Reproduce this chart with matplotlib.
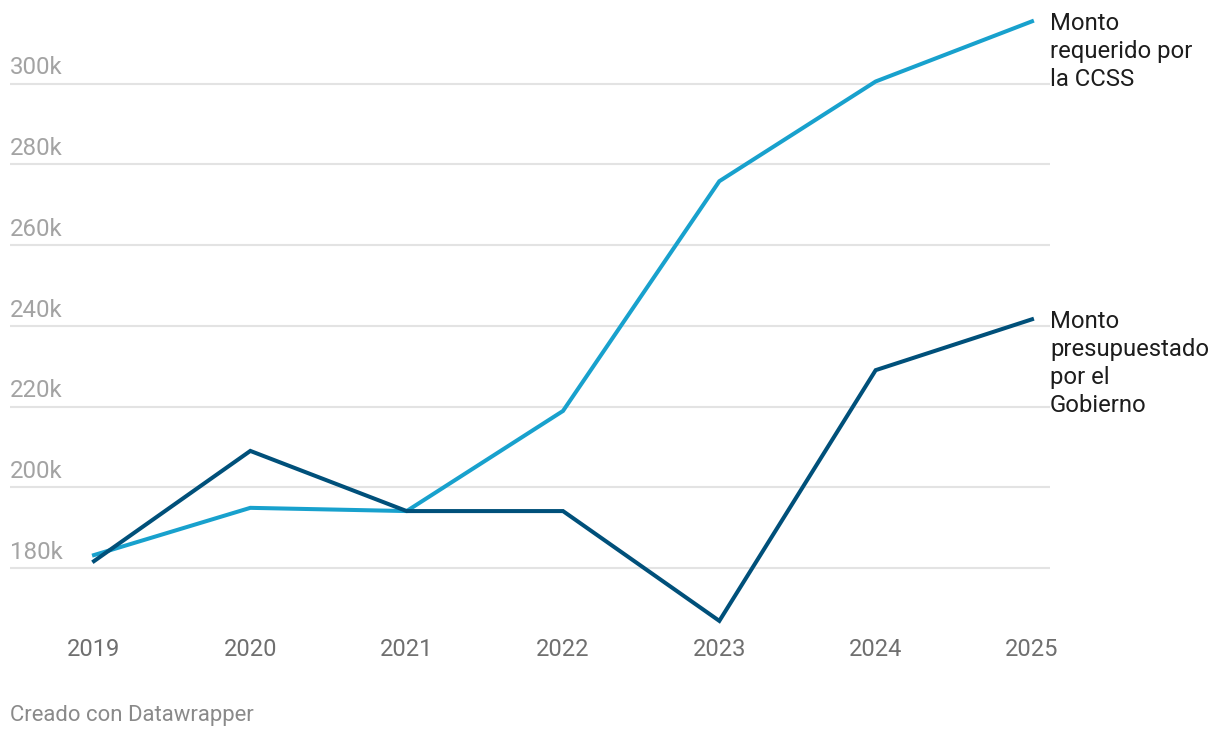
import matplotlib
matplotlib.use("Agg")
import matplotlib.pyplot as plt

plt.rcParams['font.family'] = ['Roboto', 'DejaVu Sans']

years = [2019, 2020, 2021, 2022, 2023, 2024, 2025]
requerido = [183.2, 194.9, 194.1, 218.9, 275.8, 300.5, 315.4]
presupuestado = [181.7, 209.0, 194.1, 194.1, 166.9, 229.0, 241.6]
yticks = [180, 200, 220, 240, 260, 280, 300]
ytick_labels = ["180k", "200k", "220k", "240k", "260k", "280k", "300k"]
label_req = "Monto\nrequerido por\nla CCSS"
label_pre = "Monto\npresupuestado\npor el\nGobierno"

W, H = 1220, 738
fig = plt.figure(figsize=(W / 100, H / 100), dpi=100)
left_px, right_px, top_px, bot_px = 10, 1050, 15, 630
ax = fig.add_axes([left_px / W, 1 - bot_px / H, (right_px - left_px) / W, (bot_px - top_px) / H])

px_per_year = (1032 - 94) / 6
ax.set_xlim(2019 - 84 / px_per_year, 2025 + 18 / px_per_year)
px_per_k = (568 - 83.5) / 120
ax.set_ylim(180 - (630 - 568) / px_per_k, 300 + (83.5 - 15) / px_per_k)

for s in ax.spines.values():
    s.set_visible(False)
ax.set_yticks([])
ax.set_xticks(years)
ax.set_xticklabels([str(y) for y in years], fontsize=17, color='#6f6f6f')
ax.tick_params(axis='x', length=0, pad=5.5)

for v, lab in zip(yticks, ytick_labels):
    ax.axhline(v, color='#e3e3e3', lw=1.5, zorder=0)
    ax.annotate(lab, xy=(0, v), xycoords=('axes fraction', 'data'),
                xytext=(0, 6.5), textcoords='offset points',
                ha='left', va='baseline', fontsize=17.3, color='#a3a3a3')

c_req = '#18a1cd'
c_pre = '#00507a'
ax.plot(years, requerido, color=c_req, lw=2.9, solid_joinstyle='miter', zorder=3)
ax.plot(years, presupuestado, color=c_pre, lw=2.9, solid_joinstyle='miter', zorder=4)

ax.annotate(label_req, xy=(years[-1], requerido[-1]), xytext=(13, 6.5),
            textcoords='offset points', ha='left', va='top', fontsize=17.2,
            color='#1d1d1d', linespacing=1.27, annotation_clip=False)
ax.annotate(label_pre, xy=(years[-1], presupuestado[-1]), xytext=(13, 6.5),
            textcoords='offset points', ha='left', va='top', fontsize=17.2,
            color='#1d1d1d', linespacing=1.27, annotation_clip=False)

fig.text(10 / W, 1 - 715 / H, "Creado con Datawrapper", ha='left', va='center',
         fontsize=15.9, color='#8a8a8a')

fig.savefig("out.png", dpi=100)
